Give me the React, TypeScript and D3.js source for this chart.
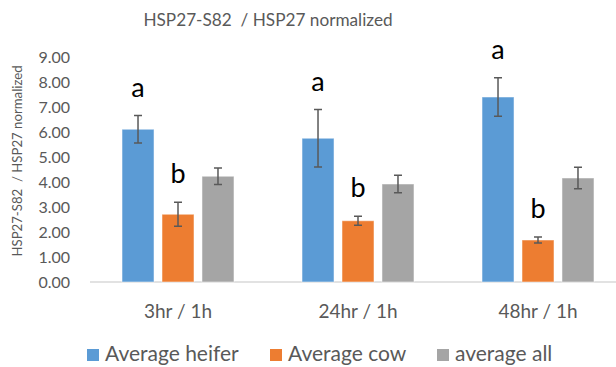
import React, { useEffect, useRef } from "react";
import * as d3 from "d3";

const categories = ["3hr / 1h", "24hr / 1h", "48hr / 1h"];
const seriesNames = ["Average heifer", "Average cow", "average all"];
const seriesColors = ["#5B9BD5", "#ED7D31", "#A5A5A5"];
const heifer = [6.11, 5.75, 7.4];
const cow = [2.71, 2.45, 1.68];
const all = [4.23, 3.92, 4.16];
const heiferErr = [0.55, 1.15, 0.77];
const cowErr = [0.48, 0.18, 0.12];
const allErr = [0.33, 0.35, 0.43];
const letters = ["a", "b", ""];
const yTicks = [0, 1, 2, 3, 4, 5, 6, 7, 8, 9];

export default function App() {
  const ref = useRef<SVGSVGElement>(null);

  useEffect(() => {
    const svg = d3.select(ref.current);
    svg.selectAll("*").remove();
    const font = "Lato, 'Open Sans', sans-serif";
    const txt = "#595959";

    const values = [heifer, cow, all];
    const errs = [heiferErr, cowErr, allErr];

    const y = d3.scaleLinear().domain([0, 9]).range([282, 57]);
    const x0 = d3.scaleBand().domain(categories).range([88, 628]).paddingInner(0.378).paddingOuter(0.189);
    const x1 = d3.scaleBand().domain(seriesNames).range([0, x0.bandwidth()]).paddingInner(0.2);

    // title
    svg.append("text")
      .attr("x", 268).attr("y", 26)
      .attr("text-anchor", "middle")
      .attr("font-family", font).attr("font-size", 17.2)
      .attr("fill", txt)
      .style("white-space", "pre")
      .text("HSP27-S82  / HSP27 normalized");

    // y axis title
    svg.append("text")
      .attr("transform", "translate(22,161) rotate(-90)")
      .attr("text-anchor", "middle")
      .attr("font-family", font).attr("font-size", 13.2)
      .attr("fill", txt)
      .style("white-space", "pre")
      .text("HSP27-S82  / HSP27 normalized");

    // y tick labels
    svg.append("g").selectAll("text").data(yTicks).enter().append("text")
      .attr("x", 70).attr("y", d => y(d) + 5.5)
      .attr("text-anchor", "end")
      .attr("font-family", font).attr("font-size", 16)
      .attr("fill", txt)
      .text(d => d3.format(".2f")(d));

    // baseline
    svg.append("line")
      .attr("x1", 90).attr("x2", 616)
      .attr("y1", y(0)).attr("y2", y(0))
      .attr("stroke", "#D9D9D9").attr("stroke-width", 1.5);

    const groups = svg.append("g").selectAll("g").data(categories).enter().append("g")
      .attr("transform", d => `translate(${x0(d)},0)`);

    seriesNames.forEach((s, si) => {
      groups.append("rect")
        .attr("x", x1(s)!)
        .attr("width", x1.bandwidth())
        .attr("y", (_, i) => y(values[si][i]))
        .attr("height", (_, i) => y(0) - y(values[si][i]))
        .attr("fill", seriesColors[si])
        .attr("stroke", "#ffffff").attr("stroke-opacity", 0.5);

      const cx = x1(s)! + x1.bandwidth() / 2;
      groups.append("path")
        .attr("d", (_, i) => {
          const hi = y(values[si][i] + errs[si][i]);
          const lo = y(values[si][i] - errs[si][i]);
          return `M${cx},${hi}V${lo}M${cx - 4},${hi}H${cx + 4}M${cx - 4},${lo}H${cx + 4}`;
        })
        .attr("stroke", "#595959").attr("stroke-width", 1.5).attr("fill", "none");

      if (letters[si]) {
        groups.append("text")
          .attr("x", cx)
          .attr("y", (_, i) => y(values[si][i] + errs[si][i]) - 19)
          .attr("text-anchor", "middle")
          .attr("font-family", font).attr("font-size", 27)
          .attr("fill", "#000")
          .text(letters[si]);
      }
    });

    // x labels
    groups.append("text")
      .attr("x", x0.bandwidth() / 2).attr("y", 318)
      .attr("text-anchor", "middle")
      .attr("font-family", font).attr("font-size", 19)
      .attr("fill", txt)
      .text(d => d);

    // legend
    const legendX = [87, 270, 437];
    const legend = svg.append("g").selectAll("g").data(seriesNames).enter().append("g")
      .attr("transform", (_, i) => `translate(${legendX[i]},349)`);
    legend.append("rect")
      .attr("width", 12).attr("height", 12)
      .attr("fill", (_, i) => seriesColors[i]);
    legend.append("text")
      .attr("x", 18).attr("y", 12)
      .attr("font-family", font).attr("font-size", 21)
      .attr("fill", txt)
      .text(d => d);
  }, []);

  return (
    <svg
      ref={ref}
      width={616}
      height={367}
      style={{ position: "absolute", left: 0, top: 0, background: "#fff" }}
    />
  );
}
